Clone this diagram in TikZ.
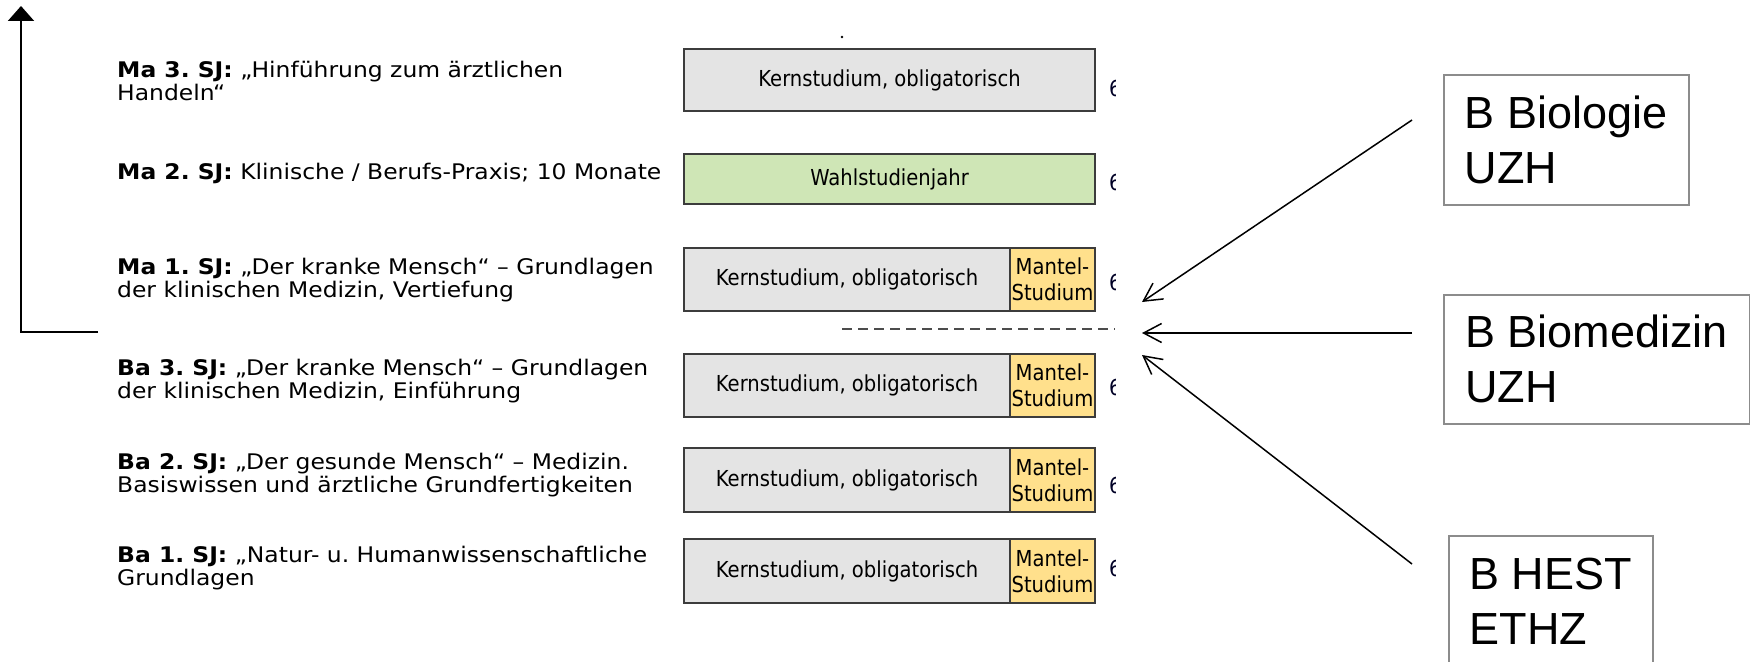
\documentclass[tikz,border=0pt]{standalone}
\usepackage{fontspec}
\setmainfont{DejaVu Sans}
\newfontfamily\yearfont{DejaVu Sans}[FakeStretch=1.09]
\newfontfamily\boxfont{DejaVu Sans}[FakeStretch=0.89]
\newfontfamily\arialfont{Liberation Sans}
\usetikzlibrary{arrows.meta}
\frenchspacing

\definecolor{kerngray}{HTML}{E4E4E4}
\definecolor{wahlgreen}{HTML}{CFE6B6}
\definecolor{mantelyellow}{HTML}{FFE08C}
\definecolor{boxframe}{HTML}{3C3C3C}
\definecolor{srcframe}{HTML}{8C8C8C}

\begin{document}
\begin{tikzpicture}[x=1pt,y=-1pt,
  yearlabel/.style={anchor=west, align=left, inner sep=0pt,
    font=\yearfont\fontsize{21.5}{23.5}\selectfont},
  studybox/.style={draw=boxframe, line width=2pt, anchor=north west,
    inner sep=0pt, align=center, font=\boxfont\fontsize{22}{26}\selectfont},
  kern/.style={studybox, fill=kerngray},
  wahl/.style={studybox, fill=wahlgreen},
  mantel/.style={studybox, fill=mantelyellow, minimum width=85pt},
  credit/.style={anchor=west, inner sep=0pt, text=black!85!blue,
    font=\boxfont\fontsize{22}{26}\selectfont},
  srcbox/.style={draw=srcframe, line width=1.5pt, anchor=north west,
    inner sep=0pt, align=left, font=\arialfont\fontsize{45}{55}\selectfont},
  feed/.style={line width=1.5pt, -{Straight Barb[length=18pt,width=19pt]}},
  axis/.style={line width=2pt, -{Triangle[length=15pt,width=26pt]}}
]
\clip (0,0) rectangle (1750,661);
\fill[white] (0,0) rectangle (1750,661);

% time axis on the left
\coordinate (axisfoot) at (98,332);
\coordinate (axiscorner) at (21,332);
\coordinate (axistop) at (21,6);
\draw[axis] (axisfoot) -- (axiscorner) -- (axistop);

% study years, top to bottom
\node[yearlabel] (l6) at (117,81) {\textbf{Ma 3. SJ:} „Hinführung zum ärztlichen\\Handeln“};
\node[yearlabel] (l5) at (117,173) {\textbf{Ma 2. SJ:} Klinische / Berufs-Praxis; 10 Monate};
\node[yearlabel] (l4) at (117,280) {\textbf{Ma 1. SJ:} „Der kranke Mensch“ – Grundlagen\\der klinischen Medizin, Vertiefung};
\node[yearlabel] (l3) at (117,381) {\textbf{Ba 3. SJ:} „Der kranke Mensch“ – Grundlagen\\der klinischen Medizin, Einführung};
\node[yearlabel] (l2) at (117,475) {\textbf{Ba 2. SJ:} „Der gesunde Mensch“ – Medizin.\\Basiswissen und ärztliche Grundfertigkeiten};
\node[yearlabel] (l1) at (117,568) {\textbf{Ba 1. SJ:} „Natur- u. Humanwissenschaftliche\\Grundlagen};

% study blocks
\node[kern, minimum width=411pt, minimum height=62pt] (k6) at (683,48) {Kernstudium, obligatorisch};
\node[wahl, minimum width=411pt, minimum height=50pt] (w5) at (683,153) {Wahlstudienjahr};
\node[kern, minimum width=326pt, minimum height=63pt] (k4) at (683,247) {Kernstudium, obligatorisch};
\node[mantel, minimum height=63pt] (m4) at (1009,247) {Mantel-\\Studium};
\node[kern, minimum width=326pt, minimum height=63pt] (k3) at (683,353) {Kernstudium, obligatorisch};
\node[mantel, minimum height=63pt] (m3) at (1009,353) {Mantel-\\Studium};
\node[kern, minimum width=326pt, minimum height=64pt] (k2) at (683,447) {Kernstudium, obligatorisch};
\node[mantel, minimum height=64pt] (m2) at (1009,447) {Mantel-\\Studium};
\node[kern, minimum width=326pt, minimum height=64pt] (k1) at (683,538) {Kernstudium, obligatorisch};
\node[mantel, minimum height=64pt] (m1) at (1009,538) {Mantel-\\Studium};

\fill (842,37) circle (1.3pt);

% credit column, cut at its left edge
\begin{scope}
  \clip (1100,0) rectangle (1115,661);
  \node[credit] (c6) at (1109,88) {6};
  \node[credit] (c5) at (1109,182) {6};
  \node[credit] (c4) at (1109,282) {6};
  \node[credit] (c3) at (1109,387) {6};
  \node[credit] (c2) at (1109,485) {6};
  \node[credit] (c1) at (1109,568) {6};
\end{scope}

% Bachelor / Master boundary
\coordinate (dashL) at (842,329);
\coordinate (dashR) at (1115,329);
\draw[black!70, line width=1.5pt, dash pattern=on 10pt off 6pt] (dashL) -- (dashR);

% entry programmes
\node[srcbox, minimum width=245pt, minimum height=130pt] (bio) at (1443,74) {B Biologie\\UZH};
\node[srcbox, minimum width=306pt, minimum height=129pt] (bmed) at (1443,294) {B Biomedizin\\UZH};
\node[srcbox, minimum width=204pt, minimum height=131pt] (hest) at (1448,535) {B HEST\\ETHZ};

\coordinate (bioS) at (1412,120);
\coordinate (bioE) at (1142,302);
\coordinate (bmedS) at (1412,333);
\coordinate (bmedE) at (1142,333);
\coordinate (hestS) at (1412,564);
\coordinate (hestE) at (1142,355);
\draw[feed] (bioS) -- (bioE);
\draw[feed] (bmedS) -- (bmedE);
\draw[feed] (hestS) -- (hestE);
\end{tikzpicture}
\end{document}
